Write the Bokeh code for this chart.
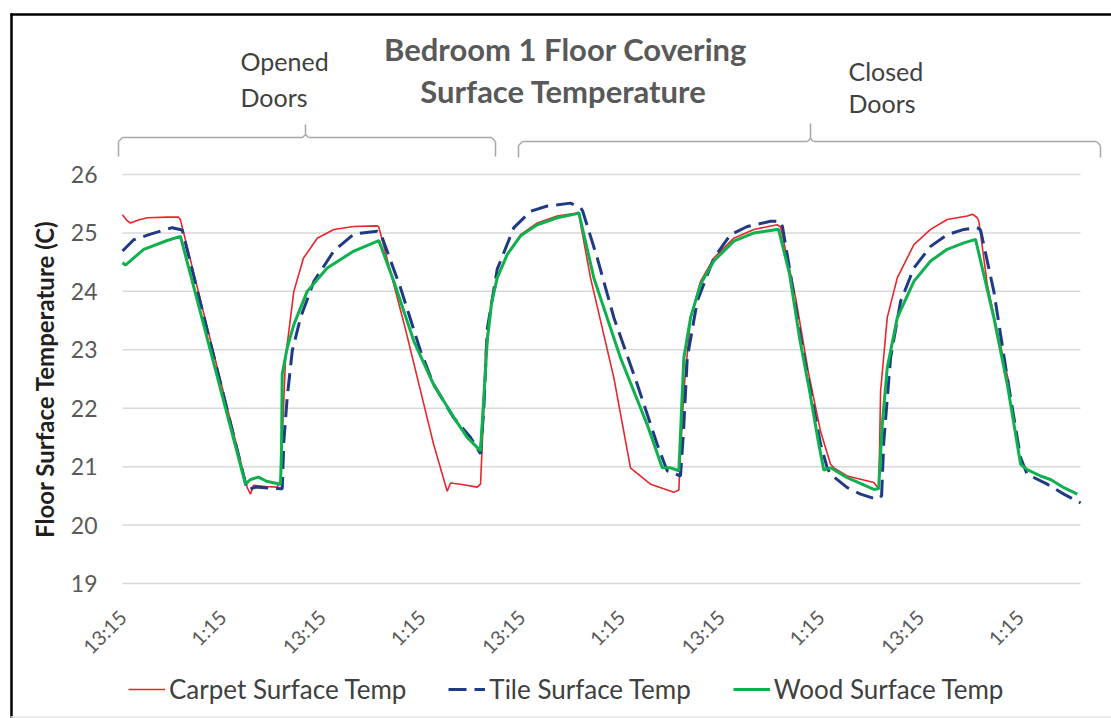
from math import pi

from bokeh.plotting import figure
from bokeh.models import (Arrow, FixedTicker, Label, Legend, LegendItem, Range1d)
from bokeh.embed import file_html
from bokeh.resources import INLINE

# Hours elapsed since 13:15 on the first day, and surface temperatures (C)
carpet_hours = [0.0, 0.48, 0.96, 1.93, 3.01, 5.38, 6.74, 6.98, 15.01, 15.41, 15.77, 17.21, 18.62, 19.02,
                19.26, 19.62, 20.62, 21.79, 23.44, 25.43, 27.84, 30.66, 30.85, 34.06, 37.43, 39.08, 39.48,
                40.68, 42.69, 43.09, 43.49, 43.69, 44.29, 45.10, 46.30, 47.91, 49.92, 52.32, 54.73, 54.92,
                56.33, 59.14, 61.14, 61.54, 63.55, 66.36, 66.96, 67.08, 67.56, 68.37, 69.57, 71.17, 73.58,
                75.99, 78.80, 79.20, 79.44, 81.00, 82.57, 84.02, 85.22, 85.62, 87.23, 90.43, 90.84, 91.03,
                91.24, 92.04, 93.25, 95.25, 97.26, 99.26, 101.67, 102.31, 102.87, 103.07, 104.08, 105.28,
                106.68]
carpet_temp = [25.31, 25.22, 25.17, 25.22, 25.26, 25.27, 25.27, 25.22, 20.64, 20.53, 20.68, 20.66, 20.65,
               20.75, 21.6, 22.86, 24.0, 24.57, 24.91, 25.06, 25.11, 25.12, 25.10, 23.35, 21.39, 20.58,
               20.72, 20.70, 20.65, 20.70, 22.0, 22.98, 23.72, 24.23, 24.63, 24.97, 25.17, 25.29, 25.34,
               25.32, 24.23, 22.52, 20.98, 20.93, 20.70, 20.56, 20.60, 21.0, 22.29, 23.55, 24.17, 24.57,
               24.91, 25.06, 25.14, 25.10, 24.95, 23.9, 22.6, 21.6, 21.04, 20.98, 20.84, 20.73, 20.65,
               20.62, 22.29, 23.55, 24.23, 24.80, 25.06, 25.23, 25.29, 25.32, 25.26, 25.2, 24.12, 23.32,
               22.44]

tile_hours = [0.0, 1.32, 3.37, 5.98, 7.19, 15.01, 16.01, 17.82, 19.22, 19.42, 19.82, 20.43, 21.43, 23.03,
              25.43, 27.84, 30.66, 31.05, 33.46, 35.87, 37.43, 39.84, 41.89, 43.09, 43.49, 43.90, 45.10,
              47.10, 49.11, 51.12, 53.92, 55.13, 55.37, 57.14, 59.14, 61.95, 64.36, 65.56, 67.16, 67.52,
              67.97, 69.17, 71.17, 73.18, 75.19, 77.99, 79.20, 79.44, 80.40, 81.61, 82.81, 84.02, 84.82,
              85.22, 87.23, 88.83, 90.84, 91.36, 91.63, 92.44, 93.65, 95.25, 97.26, 99.26, 101.26, 102.87,
              103.27, 104.87, 106.49, 108.09, 108.89, 111.30, 113.30, 115.31]
tile_temp = [24.69, 24.88, 24.98, 25.09, 25.05, 20.60, 20.65, 20.63, 20.62, 21.44, 22.18, 22.98, 23.55,
             24.17, 24.69, 24.98, 25.03, 25.00, 24.06, 22.98, 22.41, 21.84, 21.50, 21.22, 22.0, 23.35,
             24.38, 25.09, 25.37, 25.46, 25.51, 25.43, 25.38, 24.57, 23.55, 22.41, 21.38, 20.93, 20.84,
             21.6, 22.86, 23.83, 24.57, 24.97, 25.11, 25.20, 25.20, 25.1, 24.29, 23.21, 22.29, 21.38,
             20.98, 20.87, 20.64, 20.53, 20.44, 20.5, 21.44, 22.86, 23.83, 24.40, 24.77, 24.97, 25.06,
             25.09, 25.05, 24.0, 22.52, 21.15, 20.87, 20.70, 20.53, 20.38]

wood_hours = [0.0, 0.36, 2.56, 5.38, 6.98, 14.80, 15.41, 16.37, 17.33, 19.02, 19.14, 19.22, 19.82, 20.62,
              22.23, 24.64, 27.84, 30.85, 32.66, 35.06, 37.43, 39.88, 41.49, 43.09, 43.49, 43.90, 44.42,
              45.10, 46.30, 47.91, 49.92, 52.32, 54.73, 54.92, 56.73, 59.94, 63.15, 64.96, 65.96, 66.96,
              67.56, 68.37, 69.57, 71.17, 73.58, 75.99, 78.80, 78.96, 80.28, 81.49, 82.69, 83.78, 84.41,
              85.22, 87.23, 90.43, 91.00, 91.44, 92.04, 93.25, 95.25, 97.26, 99.26, 101.26, 102.67,
              104.87, 106.49, 108.09, 108.89, 110.49, 111.70, 113.30, 114.92]
wood_temp = [24.49, 24.45, 24.72, 24.87, 24.94, 20.70, 20.78, 20.82, 20.75, 20.70, 21.3, 22.58, 23.03,
             23.43, 24.0, 24.40, 24.69, 24.87, 24.17, 23.15, 22.41, 21.84, 21.50, 21.27, 22.2, 23.15,
             23.8, 24.23, 24.63, 24.95, 25.14, 25.26, 25.33, 25.35, 24.23, 22.86, 21.72, 20.98, 20.98,
             20.93, 22.86, 23.55, 24.12, 24.52, 24.86, 25.00, 25.06, 25.06, 24.3, 23.2, 22.3, 21.4,
             20.94, 20.98, 20.81, 20.61, 20.62, 21.72, 22.69, 23.55, 24.17, 24.52, 24.72, 24.83, 24.89,
             23.55, 22.41, 21.04, 20.95, 20.84, 20.78, 20.64, 20.53]

tick_hours = [0, 12, 24, 36, 48, 60, 72, 84, 96, 108]
tick_labels = ["13:15", "1:15", "13:15", "1:15", "13:15", "1:15", "13:15", "1:15", "13:15", "1:15"]
temp_ticks = [19, 20, 21, 22, 23, 24, 25, 26]

series_names = ["Carpet Surface Temp", "Tile Surface Temp", "Wood Surface Temp"]

FONT = "Lato"
W, H = 1111, 718
# plot area edges in canvas pixels, and the span of hours/temperatures it shows
FL, FR, FT, FB = 122, 1080, 174, 583
H_LO, H_HI = 0.0, 115.3
T_LO, T_HI = 19, 26

# The frame covers the whole canvas so that titles, brackets and legend can sit
# anywhere; the ranges are widened so the plot area lands at FL..FR / FT..FB.
ppx = (FR - FL) / (H_HI - H_LO)
ppy = (FB - FT) / (T_HI - T_LO)
x_range = Range1d(H_LO - FL / ppx, H_HI + (W - FR) / ppx)
y_range = Range1d(T_LO - (H - FB) / ppy, T_HI + FT / ppy)

p = figure(width=W, height=H, output_backend="svg", toolbar_location=None,
           x_range=x_range, y_range=y_range, min_border=0)
p.outline_line_color = None
p.background_fill_color = "white"
p.border_fill_color = "white"

# axes pinned to the plot-area edges
p.xaxis.fixed_location = T_LO
p.yaxis.fixed_location = H_LO
p.xaxis.bounds = (H_LO, H_HI)
p.yaxis.bounds = (T_LO, T_HI)
p.xaxis.ticker = FixedTicker(ticks=tick_hours)
p.xaxis.major_label_overrides = {h: lab for h, lab in zip(tick_hours, tick_labels)}
p.xaxis.major_label_orientation = pi / 4
p.xaxis.major_label_text_font = FONT
p.xaxis.major_label_text_font_size = "20px"
p.xaxis.major_label_text_color = "#595959"
p.xaxis.major_label_standoff = 30
p.yaxis.ticker = FixedTicker(ticks=temp_ticks)
p.yaxis.major_label_text_font = FONT
p.yaxis.major_label_text_font_size = "23px"
p.yaxis.major_label_text_color = "#595959"
p.yaxis.major_label_standoff = 25
p.yaxis.axis_label = "Floor Surface Temperature (C)"
p.yaxis.axis_label_text_font = FONT
p.yaxis.axis_label_text_font_style = "bold"
p.yaxis.axis_label_text_font_size = "24px"
p.yaxis.axis_label_text_color = "#1f1f1f"
p.yaxis.axis_label_standoff = 9
for ax in (p.xaxis, p.yaxis):
    ax.axis_line_color = None
    ax.major_tick_line_color = None
    ax.minor_tick_line_color = None
    ax.major_tick_out = 0
    ax.major_tick_in = 0

# horizontal gridlines only across the plot area
p.xgrid.visible = False
p.ygrid.visible = False
p.segment(x0=[H_LO] * len(temp_ticks), y0=temp_ticks, x1=[H_HI] * len(temp_ticks), y1=temp_ticks,
          line_color="#d9d9d9", line_width=1.5)

# series
r_carpet = p.line(carpet_hours, carpet_temp, line_color="#e6262b", line_width=1.6)
r_tile = p.line(tile_hours, tile_temp, line_color="#1f3a85", line_width=3, line_dash="18 8")
r_wood = p.line(wood_hours, wood_temp, line_color="#0fb04e", line_width=3)


def fx(X):
    return X


def fy(Y):
    return H - Y


legend = Legend(items=[LegendItem(label=series_names[0], renderers=[r_carpet]),
                       LegendItem(label=series_names[1], renderers=[r_tile]),
                       LegendItem(label=series_names[2], renderers=[r_wood])],
                orientation="horizontal", location=(fx(128), fy(705)),
                glyph_width=37, glyph_height=20, label_standoff=4, spacing=42,
                padding=0, margin=0, border_line_color=None, background_fill_alpha=0,
                label_text_font=FONT, label_text_font_size="26px", label_text_color="#404040")
p.add_layout(legend, "center")


def text(X, Y, s, size, bold=False, color="#404040", align="left"):
    p.add_layout(Label(x=fx(X), y=fy(Y), x_units="screen", y_units="screen", text=s,
                       text_font=FONT, text_font_size=size,
                       text_font_style="bold" if bold else "normal",
                       text_color=color, text_align=align, text_baseline="middle"))


def seg(x0, y0, x1, y1, color, width):
    p.add_layout(Arrow(end=None, x_start=fx(x0), y_start=fy(y0), x_end=fx(x1), y_end=fy(y1),
                       start_units="screen", end_units="screen",
                       line_color=color, line_width=width))


def bracket(xl, xm, xr, yl, yend, ytip, color="#a6a6a6"):
    pts = [(xl, yend), (xl, yl + 4), (xl + 4, yl), (xm - 3, yl), (xm, yl - 3),
           (xm + 3, yl), (xr - 4, yl), (xr, yl + 4), (xr, yend)]
    for (a, b), (c, d) in zip(pts[:-1], pts[1:]):
        seg(a, b, c, d, color, 1.5)
    seg(xm, yl - 3, xm, ytip, color, 1.5)


# title and door annotations
text(565, 48, "Bedroom 1 Floor Covering", "31px", bold=True, color="#595959", align="center")
text(563, 90, "Surface Temperature", "31px", bold=True, color="#595959", align="center")
text(240, 60, "Opened", "25px")
text(240, 96, "Doors", "25px")
text(848, 70, "Closed", "25px")
text(848, 102, "Doors", "25px")
bracket(118, 305, 495, 137, 156, 124)
bracket(518, 810, 1100, 141, 157, 123)

# chart area border
seg(11, 13, 11, 718, "black", 2.5)
seg(10, 14, 1111, 14, "black", 2.5)
seg(10, 716.5, 1111, 716.5, "#e6e6e6", 1.5)

open("out.html", "w").write(file_html(p, INLINE))
